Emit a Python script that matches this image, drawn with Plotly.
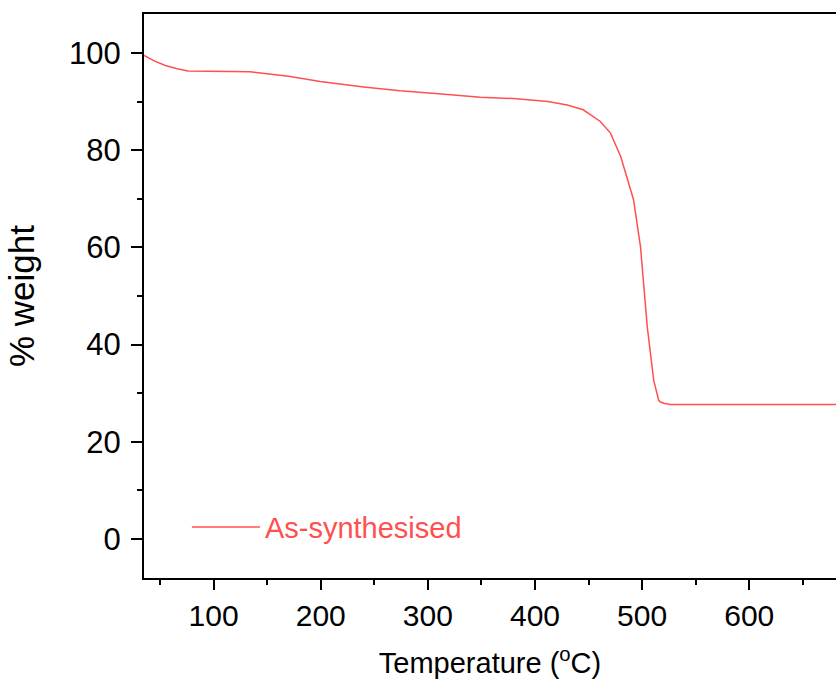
import plotly.graph_objects as go

temperature = [35, 45, 55, 65, 76, 100, 134, 170, 199.5, 240, 274, 310, 349, 380, 412, 430, 445, 461,
               470.5, 480, 492, 498.5, 504.8, 510.8, 515.4, 517, 521, 526.6, 560, 600, 640, 681]
weight = [99.5, 98.3, 97.4, 96.8, 96.3, 96.2, 96.1, 95.2, 94.1, 93.0, 92.2, 91.6, 90.9, 90.6, 90.0, 89.3, 88.3, 85.9,
          83.5, 78.7, 69.8, 60.1, 43.7, 32.7, 28.6, 28.2, 27.9, 27.7, 27.7, 27.6, 27.7, 27.7]
series_name = "As-synthesised"

red = "rgb(255,80,80)"
font = "Liberation Sans, Arial, sans-serif"

fig = go.Figure()
fig.add_trace(go.Scatter(x=temperature, y=weight, mode="lines", name=series_name,
                         line=dict(color=red, width=1.5)))

fig.update_layout(
    width=836, height=682,
    margin=dict(l=144, r=0, t=14, b=104),
    paper_bgcolor="white", plot_bgcolor="white",
    font=dict(family=font, size=30, color="black"),
    showlegend=True,
    legend=dict(x=0.062, y=0.09, xanchor="left", yanchor="middle",
                bgcolor="rgba(0,0,0,0)", font=dict(size=29, color=red, family=font),
                itemwidth=68),
)
fig.update_xaxes(
    range=[35, 681], showgrid=False, zeroline=False,
    showline=True, linecolor="black", linewidth=2, mirror=True,
    ticks="outside", ticklen=10, tickwidth=2, tickcolor="black",
    tickvals=[100, 200, 300, 400, 500, 600], tickfont=dict(size=30),
    minor=dict(ticks="outside", ticklen=5, tickwidth=2, tickcolor="black",
               tickvals=[50, 150, 250, 350, 450, 550, 650]),
    title=dict(text="Temperature (<sup>o</sup>C)", font=dict(size=29), standoff=22),
)
fig.update_yaxes(
    range=[-8, 108], showgrid=False, zeroline=False,
    showline=True, linecolor="black", linewidth=2, mirror=False,
    ticks="outside", ticklen=11, tickwidth=2, tickcolor="black",
    tickvals=[0, 20, 40, 60, 80, 100], tickfont=dict(size=31), ticklabelstandoff=4,
    minor=dict(ticks="outside", ticklen=5, tickwidth=2, tickcolor="black",
               tickvals=[10, 30, 50, 70, 90]),
    title=dict(text="% weight", font=dict(size=35), standoff=24),
)

fig.write_html("out.html")
